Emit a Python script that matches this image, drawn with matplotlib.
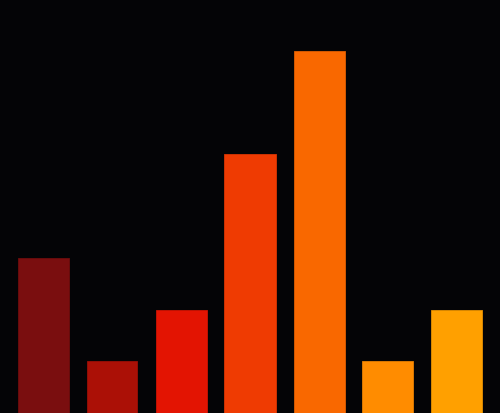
import matplotlib
matplotlib.use("Agg")
import matplotlib.pyplot as plt

categories = ["A", "B", "C", "D", "E", "F", "G"]
values = [3, 1, 2, 5, 7, 1, 2]
colors = ["#7a0e0f", "#ab1006", "#e31402", "#ef3b02", "#f96800", "#ff8c00", "#ffa000"]
edges = ["#6e0c0c", "#9a0e05", "#cc1202", "#d93502", "#e05e00", "#e67e00", "#e69000"]

fig = plt.figure(figsize=(5.0, 4.14), dpi=100)
fig.patch.set_facecolor("#040406")
ax = fig.add_axes([0, 0, 1, 1])
ax.set_facecolor("#040406")
x = list(range(len(categories)))
ax.bar(x, values, width=51/69, color=colors, edgecolor=edges, linewidth=0.6)
ax.set_xlim(-250/69 + 3, 250/69 + 3)
ax.set_ylim(0, 8)
ax.axis("off")
fig.savefig("out.png", dpi=100, facecolor=fig.get_facecolor())
